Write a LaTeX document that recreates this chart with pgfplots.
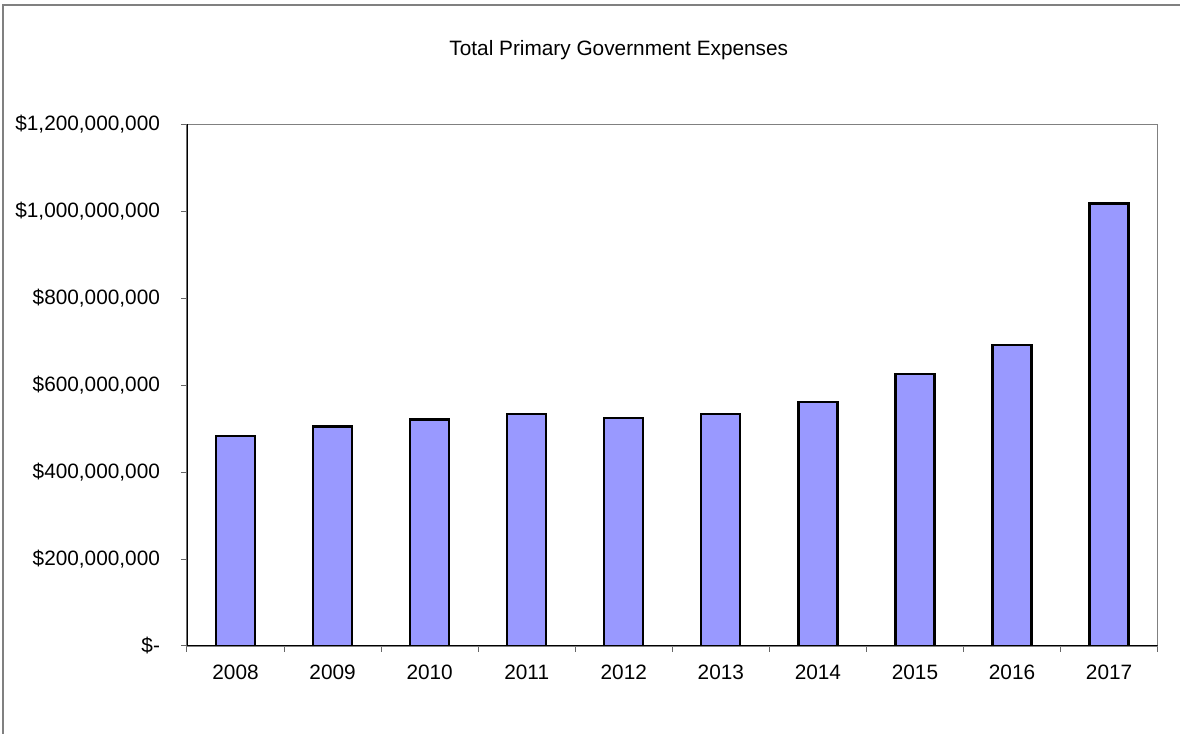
\documentclass[border=0pt]{standalone}
\usepackage{pgfplots}
\pgfplotsset{compat=1.18}
\usepackage{fontspec}
\setmainfont{Liberation Sans}
\definecolor{barblue}{HTML}{9999FF}
\definecolor{framegray}{HTML}{808080}
\begin{document}
\begin{tikzpicture}[x=1pt,y=1pt]
\path[use as bounding box] (0,0) rectangle (590,367);
\draw[framegray, line width=0.8pt] (1.5,0) -- (1.5,364.5) -- (590,364.5);
\node[font=\fontsize{10.4}{12}\selectfont] at (309.4,342) {Total Primary Government Expenses};
\begin{axis}[
  at={(93.5pt,44pt)}, anchor=south west,
  scale only axis, width=485.3pt, height=260.75pt,
  xmin=-0.5, xmax=9.5, ymin=0, ymax=1200000000,
  axis line style={framegray, line width=0.8pt},
  tick pos=left, tick align=outside,
  xtick={0,...,9},
  xticklabels={2008,2009,2010,2011,2012,2013,2014,2015,2016,2017},
  major x tick style={draw=none},
  minor xtick={-0.5,0.5,...,9.5},
  minor x tick style={black!60, line width=0.5pt},
  minor tick length=3pt,
  ytick={0,200000000,400000000,600000000,800000000,1000000000,1200000000},
  yticklabels={{\$-},{\$200,000,000},{\$400,000,000},{\$600,000,000},{\$800,000,000},{\$1,000,000,000},{\$1,200,000,000}},
  major y tick style={black!60, line width=0.5pt},
  major tick length=3pt,
  scaled y ticks=false,
  tick label style={font=\fontsize{10.4}{12}\selectfont},
  yticklabel style={xshift=-7pt},
  xticklabel style={yshift=-3pt},
]
\addplot[ybar, bar width=19.5pt, fill=barblue, draw=black, line width=1.1pt] coordinates {
(0,484000000) (1,505000000) (2,521000000) (3,534000000) (4,525000000)
(5,533000000) (6,562000000) (7,626000000) (8,693000000) (9,1018000000)};
\draw[black, line width=0.8pt] (rel axis cs:0,1) -- (rel axis cs:0,0) -- (rel axis cs:1,0);
\end{axis}
\end{tikzpicture}
\end{document}
